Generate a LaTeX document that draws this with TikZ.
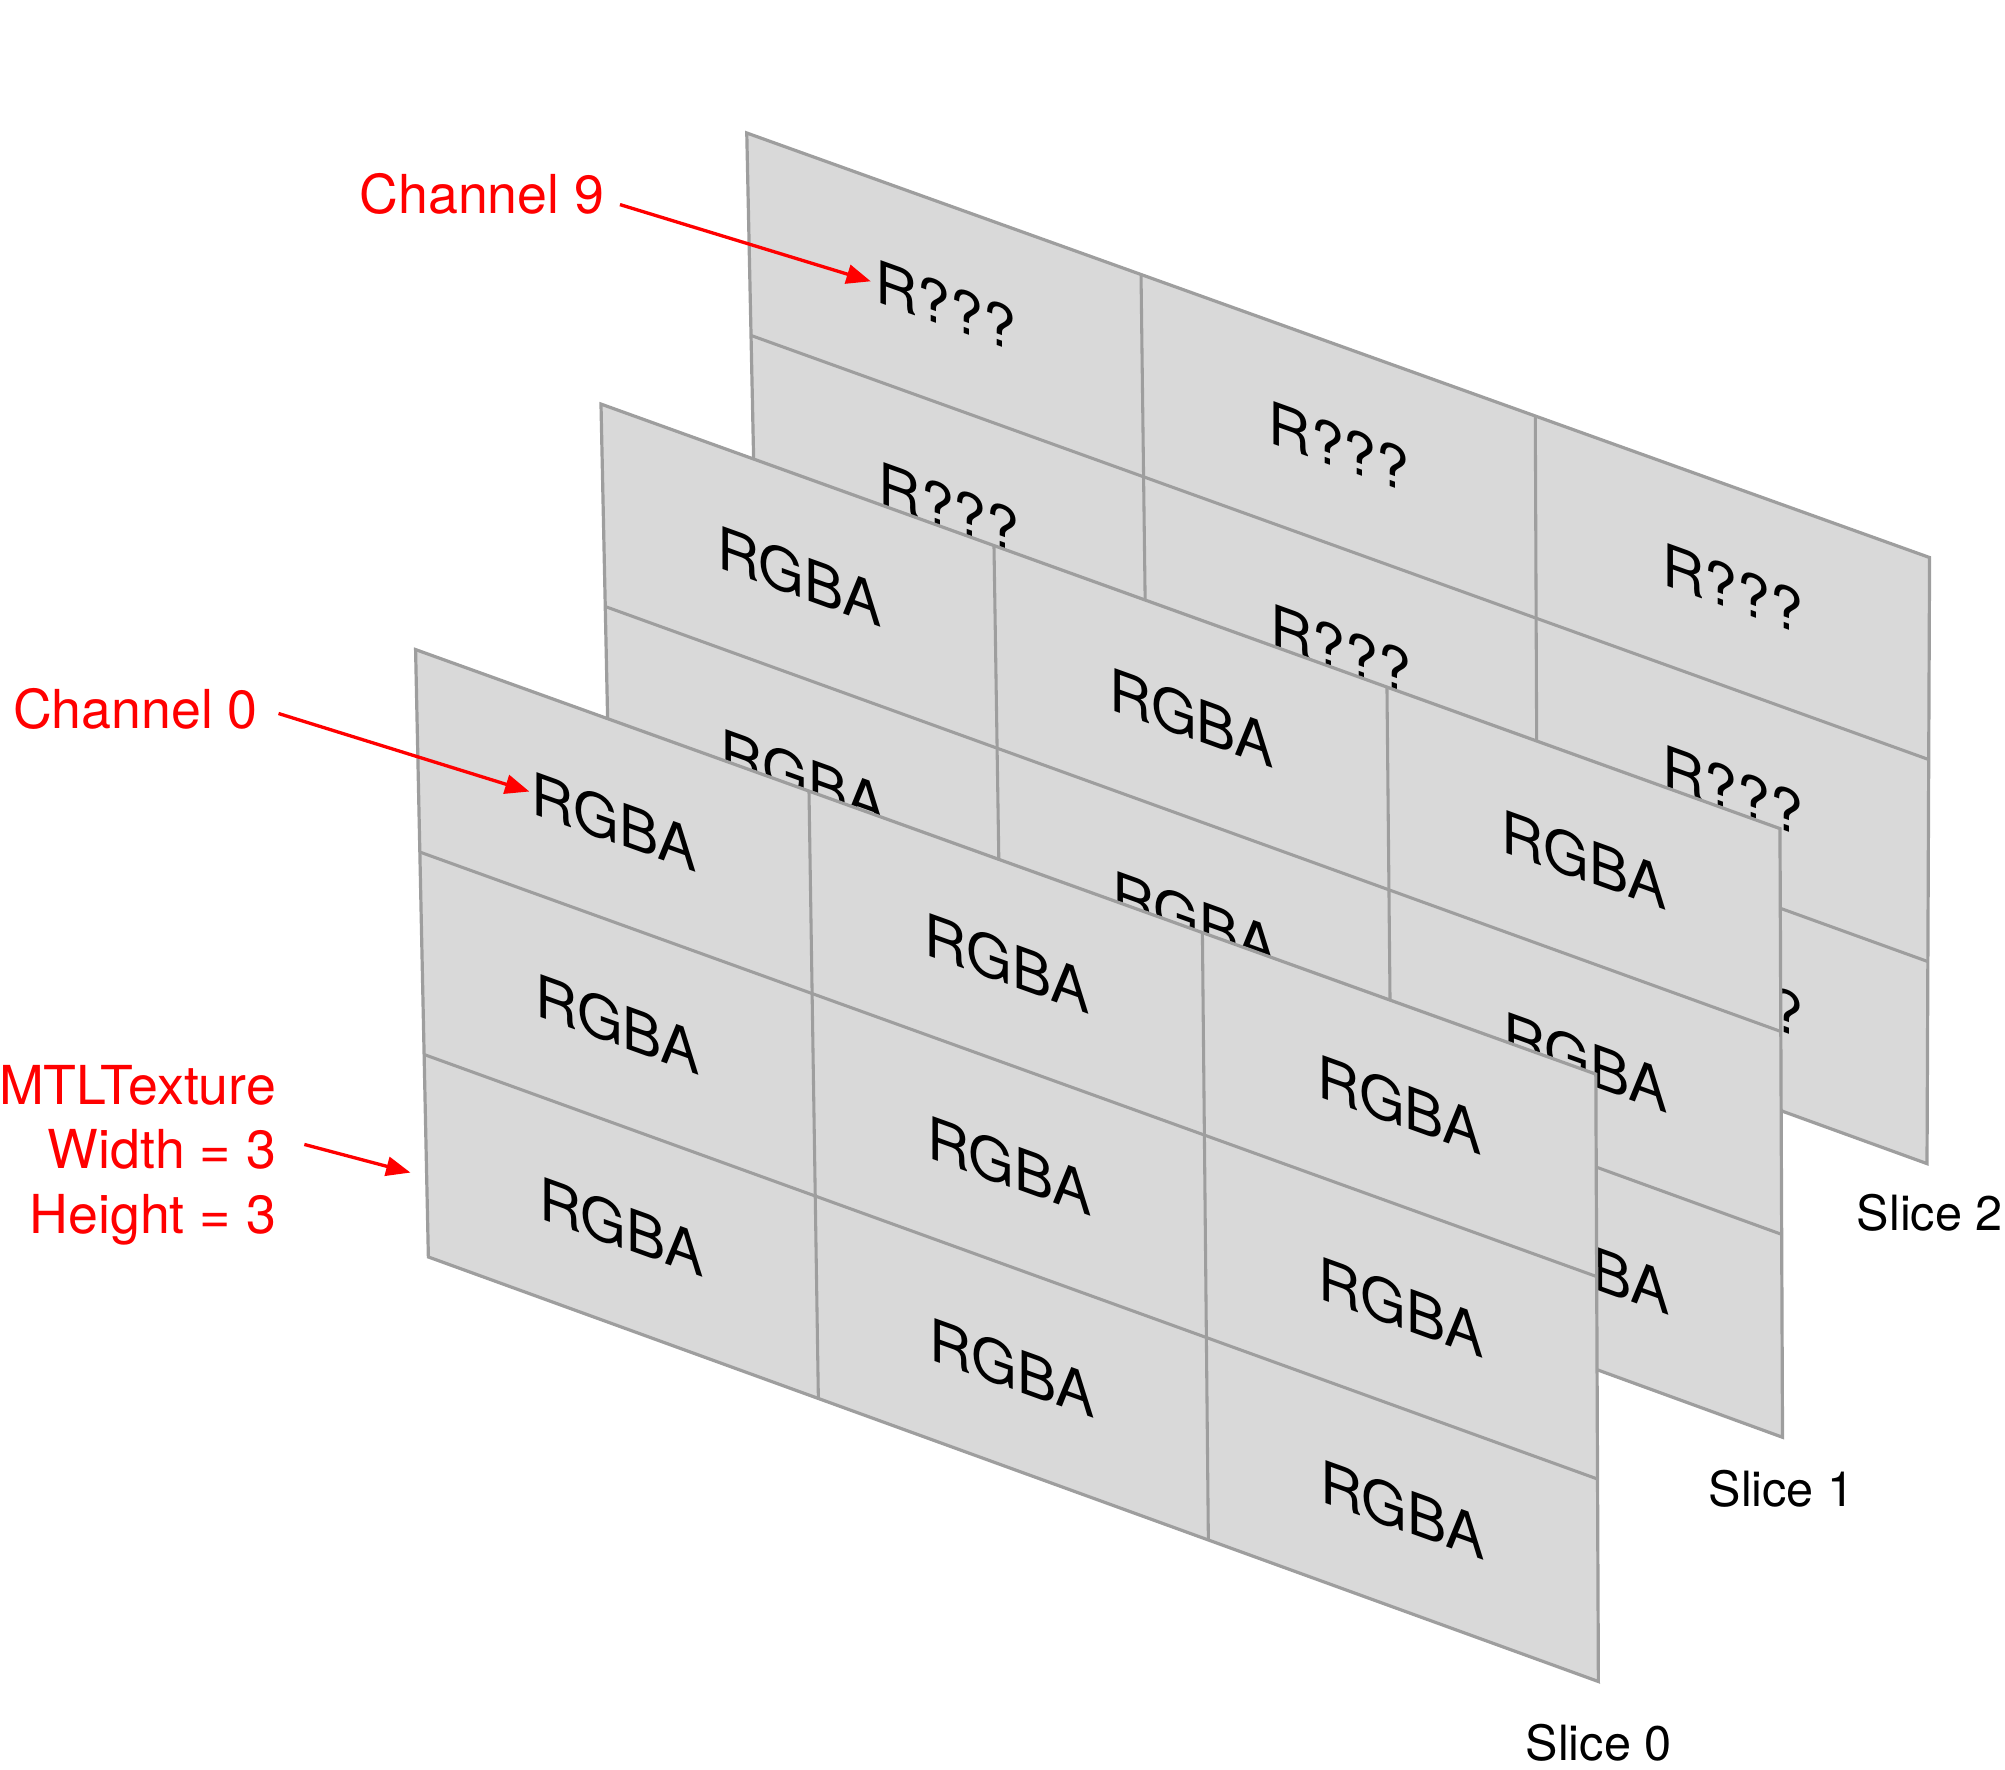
\documentclass[tikz,border=0pt]{standalone}
\usepackage{fontspec}
\setmainfont{TeX Gyre Heros}
\usetikzlibrary{calc,arrows.meta}
\definecolor{cellfill}{RGB}{217,217,217}
\definecolor{celledge}{RGB}{158,158,158}
\definecolor{labred}{RGB}{255,0,0}
\tikzset{
  slicebox/.style={fill=cellfill, draw=celledge, line width=2.5pt, line join=miter},
  gridline/.style={draw=celledge, line width=2.4pt},
  celltext/.style={inner sep=0pt, yslant=-0.36, font=\fontsize{46}{55}\selectfont},
  redlabel/.style={text=labred, inner sep=0pt, font=\fontsize{42}{50}\selectfont},
  slicelabel/.style={inner sep=0pt, font=\fontsize{38}{46}\selectfont},
  redarrow/.style={draw=labred, line width=2.6pt, -{Triangle[length=19pt,width=15pt]}},
}
% #1 name, #2 top-left, #3 top-right, #4 bottom-right, #5 bottom-left, #6 cell text
\newcommand\drawslice[6]{%
  \coordinate (#1A) at (#2);
  \coordinate (#1B) at (#3);
  \coordinate (#1C) at (#4);
  \coordinate (#1D) at (#5);
  \draw[slicebox] (#1A) -- (#1B) -- (#1C) -- (#1D) -- cycle;
  \foreach \u in {1,2} {\draw[gridline] ($(#1A)!\u/3!(#1B)$) -- ($(#1D)!\u/3!(#1C)$);}
  \foreach \v in {1,2} {\draw[gridline] ($(#1A)!\v/3!(#1D)$) -- ($(#1B)!\v/3!(#1C)$);}
  \foreach \i in {0,1,2} {\foreach \j in {0,1,2} {%
    \coordinate (#1top) at ($(#1A)!{(2*\i+1)/6}!(#1B)$);
    \coordinate (#1bot) at ($(#1D)!{(2*\i+1)/6}!(#1C)$);
    \node[celltext] (#1-\i-\j) at ($(#1top)!{(2*\j+1)/6}!(#1bot)$) {#6};
  }}%
}
\begin{document}
\begin{tikzpicture}[x=1pt,y=-1pt]
\useasboundingbox (0,0) rectangle (1568,1383.5);
% slices, back to front
\drawslice{s2}{584,104}{1509,436}{1507,910}{594,579}{R???}
\drawslice{s1}{470,316}{1392,648}{1394,1124}{480,791}{RGBA}
\drawslice{s0}{325,508}{1248,840}{1250,1315}{335,983}{RGBA}
% slice labels
\node[slicelabel, anchor=base west] (l2) at (1452,962) {Slice 2};
\node[slicelabel, anchor=base west] (l1) at (1336,1178) {Slice 1};
\node[slicelabel, anchor=base west] (l0) at (1193,1377) {Slice 0};
% red labels
\node[redlabel, anchor=base west] (ch9) at (281,167) {Channel 9};
\node[redlabel, anchor=base west] (ch0) at (10,570) {Channel 0};
\node[redlabel, anchor=base east] (mtl1) at (216,864) {MTLTexture};
\node[redlabel, anchor=base east] (mtl2) at (216,914) {Width = 3};
\node[redlabel, anchor=base east] (mtl3) at (216,965) {Height = 3};
% arrow targets
\coordinate (c9t) at (681,220);
\coordinate (c0t) at (414,619);
\coordinate (cmt) at (321,917);
\draw[redarrow] ($(ch9.base east)+(12,-7)$) -- (c9t);
\draw[redarrow] ($(ch0.base east)+(16,-12)$) -- (c0t);
\draw[redarrow] ($(mtl2.base east)+(22,-19)$) -- (cmt);
\end{tikzpicture}
\end{document}
